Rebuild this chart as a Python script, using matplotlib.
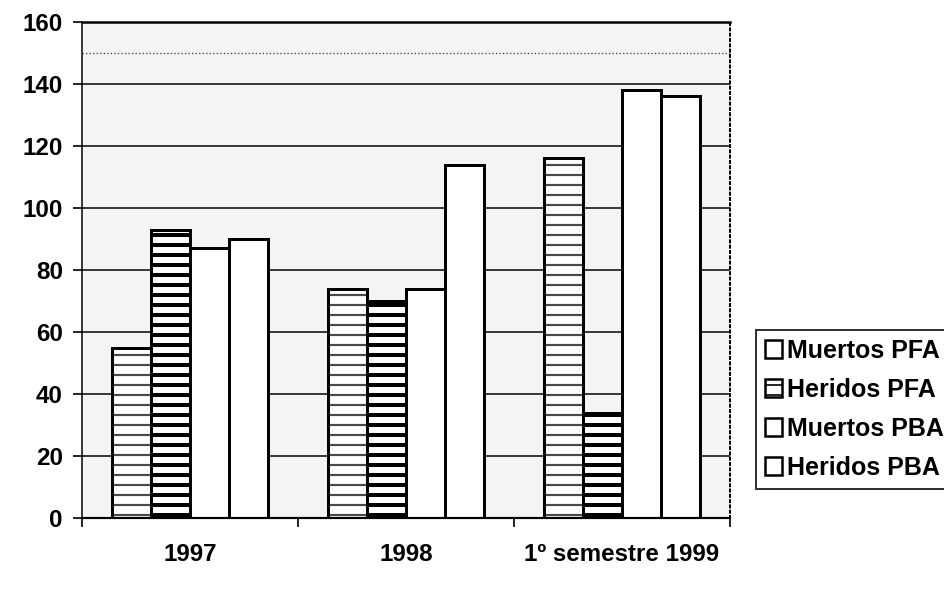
import matplotlib.pyplot as plt
from matplotlib.patches import Rectangle
import numpy as np

plt.rcParams['font.family'] = ['Liberation Sans', 'DejaVu Sans']

categorias = ["1997", "1998", "1º semestre 1999"]
series = ["Muertos PFA", "Heridos PFA", "Muertos PBA", "Heridos PBA"]
muertos_pfa = [55, 74, 116]
heridos_pfa = [93, 70, 34]
muertos_pba = [87, 74, 138]
heridos_pba = [90, 114, 136]
valores = [muertos_pfa, heridos_pfa, muertos_pba, heridos_pba]
yticks = [0, 20, 40, 60, 80, 100, 120, 140, 160]

DPI = 120
fig = plt.figure(figsize=(944 / DPI, 596 / DPI), dpi=DPI)
ax = fig.add_axes([82 / 944, 1 - 518 / 596, (730 - 82) / 944, (518 - 22) / 596])
ax.set_facecolor('#f4f4f4')

x = np.arange(len(categorias))
ancho = 0.18


def hatch_lw(patches, lw):
    for p in patches:
        if hasattr(p, 'set_hatch_linewidth'):
            p.set_hatch_linewidth(lw)


for i, vals in enumerate(valores):
    pos = x + (i - 1.5) * ancho
    if i == 0:
        # textura gris punteada de la serie Muertos PFA
        with plt.rc_context({'hatch.linewidth': 1.3}):
            b = ax.bar(pos, vals, ancho, color='white', edgecolor='#4a4a4a', linewidth=0, hatch='--', zorder=2)
        hatch_lw(b, 1.3)
    elif i == 1:
        with plt.rc_context({'hatch.linewidth': 2.4}):
            b = ax.bar(pos, vals, ancho, color='white', edgecolor='black', linewidth=0, hatch='--', zorder=2)
        hatch_lw(b, 2.4)
    else:
        ax.bar(pos, vals, ancho, color='white', linewidth=0, zorder=2)
    ax.bar(pos, vals, ancho, fill=False, edgecolor='black', linewidth=1.8, zorder=3)

ax.set_xlim(-0.5, len(categorias) - 0.5)
ax.set_ylim(0, 160)
ax.set_yticks(yticks)
ax.set_yticklabels([str(v) for v in yticks], fontsize=14.5, fontweight='bold')
ax.set_xticks(x)
ax.set_xticklabels(categorias, fontsize=14.5, fontweight='bold')
ax.set_xticks(np.arange(-0.5, len(categorias)), minor=True)
ax.tick_params(axis='x', which='major', length=0, pad=15)
ax.tick_params(axis='x', which='minor', length=5.5, width=1, direction='out')
ax.tick_params(axis='y', length=5.5, width=1, direction='out', pad=6)

ax.yaxis.grid(True, color='black', linewidth=0.9)
ax.axhline(150, color='#444444', linewidth=0.8, linestyle=':', zorder=1)
ax.set_axisbelow(True)

ax.spines['left'].set_linewidth(0.9)
ax.spines['bottom'].set_linewidth(1.3)
ax.spines['top'].set_linewidth(1.5)
ax.spines['right'].set_linewidth(1.2)
ax.spines['right'].set_linestyle(':')

# leyenda
handles = []
for i in range(len(series)):
    if i == 1:
        with plt.rc_context({'hatch.linewidth': 2.0}):
            h = Rectangle((0, 0), 1, 1, facecolor='white', edgecolor='black', linewidth=1.5, hatch='--')
        hatch_lw([h], 2.0)
    else:
        h = Rectangle((0, 0), 1, 1, facecolor='white', edgecolor='black', linewidth=1.5)
    handles.append(h)

leg = fig.legend(handles, series, loc='upper left', bbox_to_anchor=(756 / 944, 1 - 330 / 596),
                 bbox_transform=fig.transFigure, borderaxespad=0, fancybox=False,
                 prop={'size': 15, 'weight': 'bold'}, handlelength=0.68, handleheight=0.68,
                 handletextpad=0.2, labelspacing=0.6, borderpad=0.35)
leg.get_frame().set_edgecolor('black')
leg.get_frame().set_linewidth(1.2)

fig.savefig('out.png', dpi=DPI)
